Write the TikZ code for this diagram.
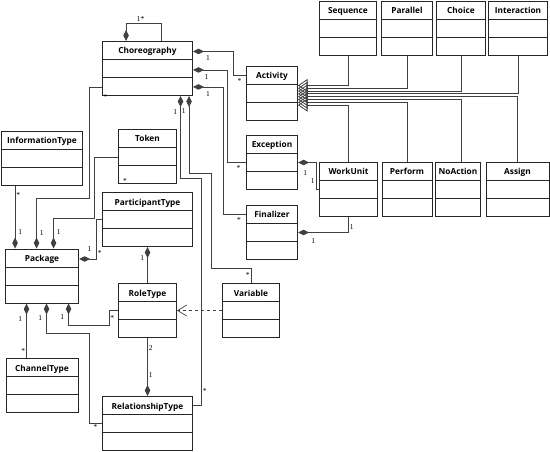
\documentclass[tikz,border=0pt]{standalone}
\usepackage{fontspec}
\setmainfont{Liberation Serif}
\setsansfont{Open Sans}
\usepackage{tikz}
\usetikzlibrary{arrows.meta}

\begin{document}
\begin{tikzpicture}[
  x=1pt, y=-1pt,
  cls/.style={rectangle, draw=black!85, fill=white, line width=1pt, anchor=north west, inner xsep=2pt, inner ysep=0pt, text height=12.5pt, text depth=41.5pt, font=\sffamily\fontsize{8.3}{10}\selectfont},
  comp/.style={{Diamond[length=11pt,width=5.5pt]}-, line width=0.9pt, black!75},
  gen/.style={-{Triangle[open,length=9.5pt,width=13pt]}, line width=0.8pt, black!75},
  dep/.style={-{Straight Barb[length=9pt,width=11pt]}, dashed, line width=0.7pt, black!75},
  lbl/.style={font=\fontsize{7.5}{8}\selectfont, inner sep=1pt, text=black}
]
  \useasboundingbox (0,0) rectangle (550,452);

  \node[cls, minimum width=90pt] (choreo) at (102,41) {\textbf{Choreography}};
  \node[cls, minimum width=51pt] (activity) at (246,66) {\textbf{Activity}};
  \node[cls, minimum width=57pt] (sequence) at (319,1) {\textbf{Sequence}};
  \node[cls, minimum width=51pt] (parallel) at (381,1) {\textbf{Parallel}};
  \node[cls, minimum width=49pt] (choice) at (436,1) {\textbf{Choice}};
  \node[cls, minimum width=59pt] (interaction) at (488,1) {\textbf{Interaction}};
  \node[cls, minimum width=51pt] (exception) at (246,135) {\textbf{Exception}};
  \node[cls, minimum width=58pt] (workunit) at (319,162) {\textbf{WorkUnit}};
  \node[cls, minimum width=50pt] (perform) at (381.5,162) {\textbf{Perform}};
  \node[cls, minimum width=45pt] (noaction) at (435,162) {\textbf{NoAction}};
  \node[cls, minimum width=63pt] (assign) at (485.5,162) {\textbf{Assign}};
  \node[cls, minimum width=51pt] (finalizer) at (246,205) {\textbf{Finalizer}};
  \node[cls, minimum width=81pt] (infotype) at (1,131) {\textbf{InformationType}};
  \node[cls, minimum width=58pt] (token) at (118,129) {\textbf{Token}};
  \node[cls, minimum width=90pt] (participant) at (102,192) {\textbf{ParticipantType}};
  \node[cls, minimum width=73pt] (package) at (5,248.5) {\textbf{Package}};
  \node[cls, minimum width=58pt] (roletype) at (118,283) {\textbf{RoleType}};
  \node[cls, minimum width=57pt] (variable) at (222,283) {\textbf{Variable}};
  \node[cls, minimum width=72pt] (channeltype) at (5.5,358) {\textbf{ChannelType}};
  \node[cls, minimum width=90pt] (relationship) at (102,396) {\textbf{RelationshipType}};

  \foreach \c in {choreo,activity,sequence,parallel,choice,interaction,exception,workunit,perform,noaction,assign,finalizer,infotype,token,participant,package,roletype,variable,channeltype,relationship}
    \draw[black!85, line width=1pt] ([yshift=-18.5pt]\c.north west) -- ([yshift=-18.5pt]\c.north east)
      ([yshift=-36.5pt]\c.north west) -- ([yshift=-36.5pt]\c.north east);

  \draw[comp] ([xshift=24pt]choreo.north west) -- ++(0,-18) -- node[lbl, above, xshift=-3pt]{1*} ++(35,0) -- ([xshift=59pt]choreo.north west);

  \draw[comp] ([yshift=-10.5pt]choreo.north east) -- node[lbl, below, pos=0.375, yshift=-3pt]{1} ++(40,0) |- node[lbl, below, pos=0.75, yshift=-2pt]{*} ([yshift=-9pt]activity.north west);
  \draw[comp] ([yshift=-29pt]choreo.north east) -- node[lbl, below, pos=0.4, yshift=-3pt]{1} ++(34,0) |- node[lbl, below, pos=0.8, yshift=-2pt]{*} ([yshift=-27pt]exception.north west);
  \draw[comp] ([yshift=-46pt]choreo.north east) -- node[lbl, below, pos=0.5, yshift=-3pt]{1} ++(30,0) |- node[lbl, below, pos=0.85, yshift=-2pt]{*} ([yshift=-9pt]finalizer.north west);
  \draw[comp] ([xshift=78.5pt]choreo.south west) -- node[lbl, left=2pt, pos=0.2]{1} ++(0,82) -- ++(21,0) |- node[lbl, right, pos=0.47]{*} ([yshift=-9pt]relationship.north east);
  \draw[comp] ([xshift=87pt]choreo.south west) -- node[lbl, left=2pt, pos=0.2]{1} ++(0,77) -- ++(22,0) |- ([yshift=15pt]variable.north) -- node[lbl, left]{*} (variable.north);

  \draw[comp] ([xshift=31.5pt]package.north west) -- node[lbl, right=2pt, pos=0.3]{1} ++(0,-50) -| ([xshift=-13pt,yshift=-46pt]choreo.north west) -- node[lbl, pos=1, below right, yshift=-6pt]{*} ([yshift=-46pt]choreo.north west);
  \draw[comp] ([xshift=10pt]package.north west) -- node[lbl, right=2pt, pos=0.27]{1} node[lbl, right, pos=0.85]{*} ([xshift=14pt]infotype.south west);
  \draw[comp] ([xshift=48.5pt]package.north west) -- node[lbl, right=2pt, pos=0.55]{1} ++(0,-30) -| ([xshift=-24pt,yshift=-28pt]token.north west) -- ([yshift=-28pt]token.north west);
  \node[lbl] (tokenstar) at ([xshift=7pt,yshift=3pt]token.south west) {*};
  \draw[comp] ([yshift=-10.5pt]package.north east) -| node[lbl, above, pos=0.3, yshift=6pt]{1} node[lbl, right, pos=0.58]{*} ([xshift=-5.5pt,yshift=-27.5pt]participant.north west) -- ([yshift=-27.5pt]participant.north west);
  \draw[comp] (participant.south) -- node[lbl, left=2pt, pos=0.3]{1} (roletype.north);
  \draw[comp] ([xshift=63.5pt]package.south west) -- node[lbl, left=3pt, pos=0.6]{1} ++(0,22) -| node[lbl, right, pos=0.75]{*} ([xshift=-9pt,yshift=-27.5pt]roletype.north west) -- ([yshift=-27.5pt]roletype.north west);
  \draw[comp] ([xshift=21.5pt]package.south west) -- node[lbl, left=3pt, pos=0.28]{1} node[lbl, left, pos=0.88]{*} ([xshift=21pt]channeltype.north west);
  \draw[comp] ([xshift=41.5pt]package.south west) -- node[lbl, left=3pt, pos=0.5]{1} ++(0,30) -| ([xshift=-13pt,yshift=-27.5pt]relationship.north west) -- node[lbl, below, pos=0.5]{*} ([yshift=-27.5pt]relationship.north west);
  \draw[comp] (relationship.north) -- node[lbl, right, pos=0.36]{1} node[lbl, right, pos=0.82]{2} (roletype.south);
  \draw[dep] ([yshift=-27.5pt]variable.north west) -- ([yshift=-27.5pt]roletype.north east);

  \draw[comp] ([yshift=-27.5pt]exception.north east) -| node[lbl, below, pos=0.2, yshift=-7pt]{1} node[lbl, left, pos=0.85]{1} ([xshift=-3pt,yshift=-27.5pt]workunit.north west) -- ([yshift=-27.5pt]workunit.north west);
  \draw[comp] ([yshift=-27.5pt]finalizer.north east) -| node[lbl, below, pos=0.15, yshift=-5pt]{1} node[lbl, right, pos=0.67]{1} (workunit.south);

  \draw[gen] (sequence.south) |- ([yshift=-19.5pt]activity.north east);
  \draw[gen] (parallel.south) |- ([yshift=-22.3pt]activity.north east);
  \draw[gen] (choice.south) |- ([yshift=-25.1pt]activity.north east);
  \draw[gen] (interaction.south) |- ([yshift=-27.9pt]activity.north east);
  \draw[gen] (assign.north) |- ([yshift=-30.7pt]activity.north east);
  \draw[gen] (choice.south |- noaction.north) |- ([yshift=-33.5pt]activity.north east);
  \draw[gen] (perform.north) |- ([yshift=-36.3pt]activity.north east);
  \draw[gen] (workunit.north) |- ([yshift=-39.1pt]activity.north east);
\end{tikzpicture}
\end{document}
